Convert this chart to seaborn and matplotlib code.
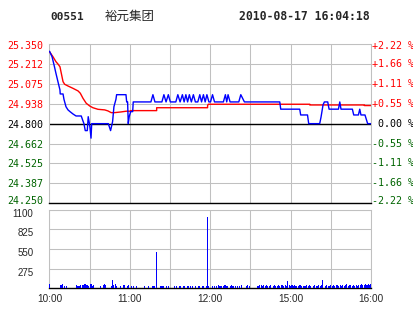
import matplotlib
matplotlib.use("Agg")
import matplotlib.pyplot as plt
import matplotlib.transforms as mtransforms
import seaborn as sns
import pandas as pd

# ---------------- data ----------------
stock_code = "00551"
stock_name = "裕元集团"
timestamp = "2010-08-17 16:04:18"
prev_close = 24.800

price_ticks = [25.350, 25.212, 25.075, 24.938, 24.800, 24.662, 24.525, 24.387, 24.250]
price_tick_labels = ["25.350", "25.212", "25.075", "24.938", "24.800",
                     "24.662", "24.525", "24.387", "24.250"]
pct_labels = ["+2.22 %", "+1.66 %", "+1.11 %", "+0.55 %", " 0.00 %",
              "-0.55 %", "-1.11 %", "-1.66 %", "-2.22 %"]
vol_ticks = [275, 550, 825, 1100]
vol_tick_labels = ["275", "550", "825", "1100"]
grid_minutes = [0, 30, 60, 90, 120, 150, 180, 210, 240]
time_labels = ["10:00", "", "11:00", "", "12:00", "", "15:00", "", "16:00"]

# last-trade price (minute index from 10:00, trading minutes only)
price_minutes = [0, 1.9, 3.4, 4.8, 6.3, 7.8, 8.0, 10.1, 10.8, 12.3, 13.8, 15.3, 17.5, 19.8,
                 23.7, 24.7, 25.7, 26.7, 28.2, 28.9, 29.7, 30.2, 31.0, 31.5, 43.9, 45.6,
                 47.1, 48.1, 49.6, 50.1, 57.1, 57.6, 58.3, 58.8, 59.5, 60.6, 62.1, 62.5,
                 75.7, 77.2, 78.7, 83.9, 85.4, 87.0, 88.7, 90.2,
                 94.3, 95.8, 97.5, 99.2, 100.5, 101.8, 103.1, 104.4, 105.9, 107.4, 108.9,
                 110.7, 112.2, 113.5, 114.9, 116.2, 117.5, 119.0,
                 120.2, 121.7, 123.2, 129.8, 131.3, 132.3, 133.3, 134.8,
                 141.3, 142.8, 145.5, 171.9, 172.6, 186.8, 187.5, 192.6, 193.5, 201.7,
                 202.7, 204.2, 205.2, 207.7, 208.7, 215.7, 216.7, 217.6, 226.1, 227.1,
                 230.6, 231.6, 232.5, 235.5, 236.5, 237.5, 240]
price_values = [25.300, 25.262, 25.205, 25.148, 25.090, 25.033, 25.005, 25.005, 24.968,
                24.917, 24.895, 24.883, 24.867, 24.853, 24.853, 24.826, 24.800, 24.752,
                24.752, 24.848, 24.805, 24.775, 24.700, 24.800, 24.800, 24.752, 24.814,
                24.917, 24.968, 25.000, 25.000, 24.950, 24.950, 24.800, 24.848, 24.883,
                24.883, 24.950,
                24.950, 25.000, 24.950, 24.950, 25.000, 24.950, 25.000, 24.950,
                24.950, 25.000, 24.950, 25.000, 24.950, 25.000, 24.950, 25.000, 24.950,
                25.000, 24.950,
                24.950, 25.000, 24.950, 25.000, 24.950, 25.000, 24.950,
                24.950, 25.000, 24.950, 24.950, 25.000, 24.950, 25.000, 24.950,
                24.950, 25.000, 24.950, 24.950, 24.900, 24.900, 24.860, 24.860, 24.800,
                24.800, 24.845, 24.930, 24.950, 24.950, 24.900, 24.900, 24.950, 24.900,
                24.900, 24.860, 24.860, 24.900, 24.860, 24.860, 24.830, 24.800, 24.800]

# average price
avg_minutes = [0, 2.6, 4.8, 6.3, 7.8, 8.8, 10.1, 11.3, 13.8, 17.5, 21.3, 23.0, 25.0, 27.4,
               30.0, 32.4, 36.2, 41.2, 43.6, 46.1, 48.6, 53.5, 57.3, 60.8, 60.8, 80.0,
               80.0, 118.0, 118.0, 118.5, 194.3, 194.3, 235.1, 235.1, 240]
avg_values = [25.297, 25.262, 25.228, 25.212, 25.193, 25.148, 25.090, 25.072, 25.060,
              25.044, 25.026, 25.010, 24.975, 24.941, 24.922, 24.910, 24.899, 24.895,
              24.888, 24.876, 24.876, 24.881, 24.886, 24.886, 24.890, 24.890, 24.910,
              24.910, 24.924, 24.934, 24.934, 24.929, 24.929, 24.925, 24.925]

# per-minute volume, minutes 0..240
volumes = [
    62, 0, 0, 0, 0, 0, 0, 0, 48, 48,
    62, 34, 0, 34, 0, 0, 0, 0, 0, 0,
    48, 34, 34, 48, 0, 48, 62, 62, 48, 34,
    0, 62, 34, 48, 0, 0, 0, 0, 34, 0,
    48, 62, 48, 0, 0, 0, 34, 121, 48, 62,
    34, 0, 0, 34, 0, 48, 48, 0, 34, 48,
    0, 34, 0, 34, 0, 34, 0, 0, 0, 0,
    0, 34, 0, 0, 34, 0, 0, 34, 34, 0,
    510, 0, 0, 34, 34, 34, 0, 34, 0, 34,
    0, 0, 0, 34, 0, 34, 0, 34, 34, 0,
    34, 34, 0, 34, 34, 34, 0, 34, 0, 34,
    0, 34, 34, 0, 34, 34, 0, 34, 1000, 34,
    0, 0, 34, 34, 0, 34, 48, 34, 34, 0,
    34, 48, 34, 34, 0, 34, 48, 34, 0, 34,
    34, 0, 34, 48, 0, 0, 0, 34, 48, 34,
    0, 0, 0, 0, 0, 34, 34, 48, 48, 34,
    48, 34, 48, 34, 34, 48, 0, 34, 48, 34,
    34, 48, 34, 48, 48, 34, 48, 34, 96, 48,
    34, 48, 34, 48, 34, 0, 34, 48, 34, 0,
    34, 34, 48, 34, 48, 34, 0, 34, 48, 34,
    34, 48, 34, 48, 110, 0, 34, 48, 34, 34,
    48, 34, 48, 34, 48, 48, 34, 48, 34, 48,
    34, 48, 62, 34, 48, 48, 34, 48, 34, 48,
    34, 48, 48, 62, 48, 48, 62, 48, 62, 48,
    62,
]
vol_minutes = list(range(len(volumes)))

# ---------------- styling ----------------
RED = "#ff0000"
GREEN = "#006400"
BLUE = "#0000ff"
GRID = "#c0c0c0"
MONO = ["DejaVu Sans Mono"]
SANS = ["Liberation Sans", "DejaVu Sans"]

sns.set_style("white")
plt.rcParams["font.family"] = ["DejaVu Sans Mono", "Noto Sans CJK SC", "DejaVu Sans"]

W, H = 414, 314
fig = plt.figure(figsize=(W / 100, H / 100), dpi=100)
fig.patch.set_facecolor("white")

L, R = 49.5, 371.0
def box(top, bottom):
    return [L / W, 1 - bottom / H, (R - L) / W, (bottom - top) / H]

ax_p = fig.add_axes(box(44.0, 203.3))
ax_v = fig.add_axes(box(209.7, 288.3))

def shift(artist, dy_px):
    artist.set_transform(artist.get_transform() +
                         mtransforms.ScaledTranslation(0, dy_px / 100, fig.dpi_scale_trans))

def level_color(v):
    if v > prev_close + 1e-6:
        return RED
    if v < prev_close - 1e-6:
        return GREEN
    return "black"

# ---- price panel ----
sns.lineplot(x=avg_minutes, y=avg_values, color=RED, linewidth=1.0, ax=ax_p,
             estimator=None, sort=False, zorder=3)
sns.lineplot(x=price_minutes, y=price_values, color=BLUE, linewidth=1.0, ax=ax_p,
             estimator=None, sort=False, zorder=4)
ax_p.set_xlim(0, 240)
ax_p.set_ylim(24.250, 25.350)
ax_p.set_xlabel("")
ax_p.set_ylabel("")
ax_p.set_yticks(price_ticks)
ax_p.set_yticklabels(price_tick_labels)
ax_p.set_xticks(grid_minutes)
ax_p.set_xticklabels([])
ax_p.grid(True, color=GRID, linewidth=0.75)
ax_p.set_axisbelow(True)
ax_p.tick_params(axis="both", length=0, pad=4.3, labelsize=7.2)
labs = ax_p.get_yticklabels()
for lab, v in zip(labs, price_ticks):
    lab.set_fontfamily(MONO)
    lab.set_color(level_color(v))
shift(labs[0], -1.0)
shift(labs[-1], 3.0)
for side in ["top", "left", "right"]:
    ax_p.spines[side].set_color(GRID)
    ax_p.spines[side].set_linewidth(0.75)
ax_p.spines["bottom"].set_color("black")
ax_p.spines["bottom"].set_linewidth(1.0)
ax_p.axhline(prev_close, color="black", linewidth=1.0, zorder=2)

# right-side percent labels
trans = mtransforms.blended_transform_factory(ax_p.transAxes, ax_p.transData)
for i, (v, t) in enumerate(zip(price_ticks, pct_labels)):
    txt = ax_p.text(1.0 + 1.0 / (R - L), v, t, transform=trans, ha="left", va="center",
                    fontsize=7.2, color=level_color(v), family=MONO, clip_on=False)
    if i == 0:
        shift(txt, -1.5)
    if i == len(price_ticks) - 1:
        shift(txt, 2.5)

# ---- volume panel ----
df_vol = pd.DataFrame({"minute": vol_minutes, "volume": volumes})
sns.barplot(data=df_vol, x="minute", y="volume", native_scale=True, color=BLUE,
            saturation=1, width=0.8, linewidth=0, errorbar=None, ax=ax_v, zorder=3)
ax_v.set_xlim(0, 240)
ax_v.set_ylim(0, 1100)
ax_v.set_yticks(vol_ticks)
ax_v.set_yticklabels(vol_tick_labels)
ax_v.set_xticks(grid_minutes)
ax_v.set_xticklabels(time_labels)
ax_v.set_xlabel("")
ax_v.set_ylabel("")
ax_v.grid(True, color=GRID, linewidth=0.75)
ax_v.set_axisbelow(True)
ax_v.tick_params(axis="y", length=0, pad=11.5, labelsize=7.0)
ax_v.tick_params(axis="x", length=0, pad=4.0, labelsize=7.2)
for lab in ax_v.get_yticklabels():
    lab.set_fontfamily(SANS)
    shift(lab, -3.0)
for lab in ax_v.get_xticklabels():
    lab.set_fontfamily(SANS)
for side in ["top", "left", "right"]:
    ax_v.spines[side].set_color(GRID)
    ax_v.spines[side].set_linewidth(0.75)
ax_v.spines["bottom"].set_color("black")
ax_v.spines["bottom"].set_linewidth(1.0)

# ---- header ----
fig.text(50 / W, 1 - 16.5 / H, stock_code, ha="left", va="center", fontsize=8.0,
         fontweight="bold", family=MONO)
fig.text(105 / W, 1 - 16.0 / H, stock_name, ha="left", va="center", fontsize=9.0,
         family=["Noto Sans CJK SC", "DejaVu Sans"])
fig.text(370 / W, 1 - 16.5 / H, timestamp, ha="right", va="center", fontsize=8.3,
         fontweight="bold", family=MONO)

fig.savefig("out.png", dpi=100, facecolor="white")
